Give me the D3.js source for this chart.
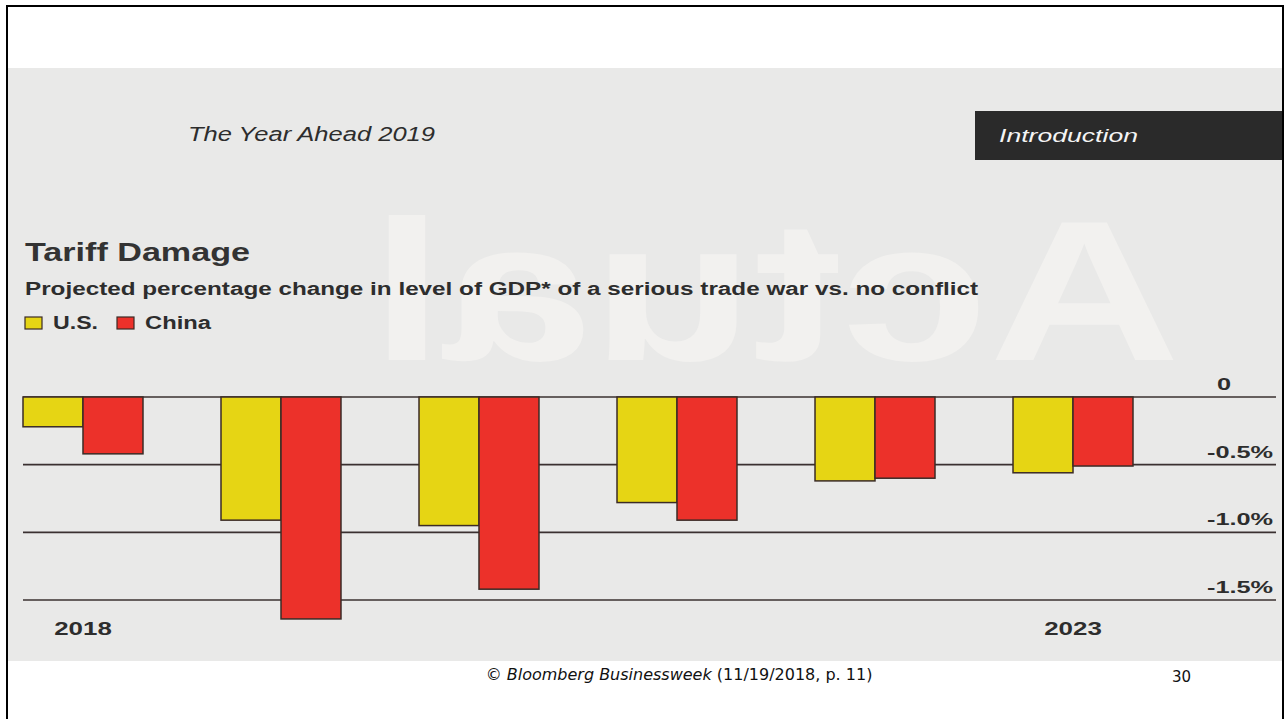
<!DOCTYPE html>
<html>
<head>
<meta charset="utf-8">
<script src="https://cdn.jsdelivr.net/npm/d3@7"></script>
<style>
    body { margin: 0; background: #fff; }
    svg { display: block; }
</style>
</head>
<body>
<div id="chart"></div>
<script>
// data (percent change in GDP level)
const years = [2018, 2019, 2020, 2021, 2022, 2023];
const yearLabels = ["2018", "", "", "", "", "2023"];
const seriesNames = ["U.S.", "China"];
const usValues = [-0.22, -0.91, -0.95, -0.78, -0.62, -0.56];
const chinaValues = [-0.42, -1.64, -1.42, -0.91, -0.60, -0.51];
const yTicks = [0, -0.5, -1.0, -1.5];
const yTickLabels = ["0", "-0.5%", "-1.0%", "-1.5%"];

const config = {
    width: 1286,
    height: 719,
    colors: {"U.S.": "#e6d514", "China": "#ec312a"},
    paper: "#e9e9e8",
    ink: "#2d2d2d",
    barStroke: "#3b2b26",
    font: "'Liberation Sans', Arial, sans-serif"
};

const svg = d3.select("#chart").append("svg")
    .attr("width", config.width)
    .attr("height", config.height);

// slide frame
svg.append("rect")
    .attr("x", 7).attr("y", 6)
    .attr("width", 1276).attr("height", 720)
    .attr("fill", "#fff")
    .attr("stroke", "#000")
    .attr("stroke-width", 2);

// scanned page
svg.append("rect")
    .attr("x", 8).attr("y", 68)
    .attr("width", 1274).attr("height", 593)
    .attr("fill", config.paper);

// show-through of the reverse page
svg.append("text")
    .attr("transform", "translate(1550,0) scale(-1,1)")
    .attr("x", 370).attr("y", 360)
    .attr("font-family", config.font)
    .attr("font-weight", "bold")
    .attr("font-size", 200)
    .attr("textLength", 810)
    .attr("lengthAdjust", "spacingAndGlyphs")
    .attr("fill", "#f2f1ef")
    .text("Actual");

function fitText(sel, len) {
    return sel.attr("textLength", len).attr("lengthAdjust", "spacingAndGlyphs");
}

// header
fitText(svg.append("text")
    .attr("x", 188).attr("y", 141)
    .attr("font-family", config.font)
    .attr("font-style", "italic")
    .attr("font-size", 20)
    .attr("fill", config.ink)
    .text("The Year Ahead 2019"), 247);

svg.append("rect")
    .attr("x", 975).attr("y", 111)
    .attr("width", 307).attr("height", 49)
    .attr("fill", "#2a2a2a");

fitText(svg.append("text")
    .attr("x", 999).attr("y", 142)
    .attr("font-family", config.font)
    .attr("font-style", "italic")
    .attr("font-size", 19)
    .attr("fill", "#f4f4f4")
    .text("Introduction"), 139);

fitText(svg.append("text")
    .attr("x", 25).attr("y", 261)
    .attr("font-family", config.font)
    .attr("font-weight", "bold")
    .attr("font-size", 26)
    .attr("fill", "#333")
    .text("Tariff Damage"), 225);

fitText(svg.append("text")
    .attr("x", 25).attr("y", 295)
    .attr("font-family", config.font)
    .attr("font-weight", "bold")
    .attr("font-size", 18)
    .attr("fill", config.ink)
    .text("Projected percentage change in level of GDP* of a serious trade war vs. no conflict"), 953);

// legend
const legendX = [25, 117];
const legendW = [45, 66];
const legend = svg.append("g").selectAll("g")
    .data(seriesNames)
    .join("g")
    .attr("transform", (d, i) => `translate(${legendX[i]},317)`);

legend.append("rect")
    .attr("width", 17).attr("height", 12)
    .attr("fill", d => config.colors[d])
    .attr("stroke", config.barStroke)
    .attr("stroke-width", 1.2);

legend.append("text")
    .attr("x", 28).attr("y", 11.5)
    .attr("font-family", config.font)
    .attr("font-weight", "bold")
    .attr("font-size", 18)
    .attr("fill", config.ink)
    .attr("textLength", (d, i) => legendW[i])
    .attr("lengthAdjust", "spacingAndGlyphs")
    .text(d => d);

// chart
const x = d3.scaleBand()
    .domain(years)
    .range([23, 1133])
    .paddingInner(0.394)
    .paddingOuter(0);

const xSeries = d3.scaleBand()
    .domain(seriesNames)
    .range([0, x.bandwidth()])
    .padding(0);

const y = d3.scaleLinear()
    .domain([0, -1.5])
    .range([397, 600]);

const grid = svg.append("g").attr("class", "grid");
grid.selectAll("line")
    .data(yTicks)
    .join("line")
    .attr("x1", 23).attr("x2", 1276)
    .attr("y1", d => y(d)).attr("y2", d => y(d))
    .attr("stroke", "#3a3030")
    .attr("stroke-width", 1.6);

grid.selectAll("text")
    .data(yTicks)
    .join("text")
    .attr("x", d => d === 0 ? 1217 : 1207)
    .attr("y", d => y(d) - 7)
    .attr("font-family", config.font)
    .attr("font-weight", "bold")
    .attr("font-size", 16)
    .attr("fill", config.ink)
    .text((d, i) => yTickLabels[i])
    .each(function () {
        const len = this.getComputedTextLength();
        fitText(d3.select(this), len * 1.58);
    });

const rows = years.map((yr, i) => ({year: yr, values: [
    {key: "U.S.", value: usValues[i]},
    {key: "China", value: chinaValues[i]}
]}));

const groups = svg.append("g").attr("class", "bars")
    .selectAll("g")
    .data(rows)
    .join("g")
    .attr("transform", d => `translate(${x(d.year)},0)`);

groups.selectAll("rect")
    .data(d => d.values)
    .join("rect")
    .attr("x", d => xSeries(d.key))
    .attr("y", d => y(0))
    .attr("width", xSeries.bandwidth())
    .attr("height", d => y(d.value) - y(0))
    .attr("fill", d => config.colors[d.key])
    .attr("stroke", config.barStroke)
    .attr("stroke-width", 1.5);

svg.append("g").selectAll("text")
    .data(years)
    .join("text")
    .attr("x", d => x(d) + x.bandwidth() / 2)
    .attr("y", 635)
    .attr("text-anchor", "middle")
    .attr("font-family", config.font)
    .attr("font-weight", "bold")
    .attr("font-size", 18.5)
    .attr("fill", config.ink)
    .text((d, i) => yearLabels[i])
    .each(function () {
        if (!this.textContent) return;
        const len = this.getComputedTextLength();
        fitText(d3.select(this), len * 1.4);
    });

// slide footer
const footer = svg.append("text")
    .attr("x", 679).attr("y", 680)
    .attr("text-anchor", "middle")
    .attr("font-family", "'DejaVu Sans', Verdana, sans-serif")
    .attr("font-size", 16)
    .attr("fill", "#111");
footer.append("tspan").text("© ");
footer.append("tspan").attr("font-style", "italic").text("Bloomberg Businessweek");
footer.append("tspan").text(" (11/19/2018, p. 11)");

svg.append("text")
    .attr("x", 1172).attr("y", 682)
    .attr("font-family", "'DejaVu Sans', Verdana, sans-serif")
    .attr("font-size", 15)
    .attr("fill", "#111")
    .text("30");
</script>
</body>
</html>
